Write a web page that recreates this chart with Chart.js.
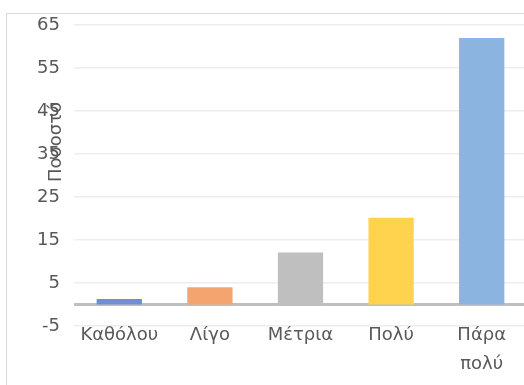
<!DOCTYPE html>
<html>
<head>
<meta charset="utf-8">
<script src="https://cdn.jsdelivr.net/npm/chart.js@4/dist/chart.umd.min.js"></script>
<style>
  html, body { margin: 0; padding: 0; background: #fff; overflow: hidden; }
  #wrap { position: relative; width: 527px; height: 385px; }
</style>
</head>
<body>
<div id="wrap"><canvas id="chart"></canvas></div>
<script>
const categories = ["Καθόλου", "Λίγο", "Μέτρια", "Πολύ", ["Πάρα", "πολύ"]];
const values = [1.3, 4.0, 12.1, 20.2, 62.0];
const barColors = ["#6E8FD2", "#F4A46E", "#BFBFBF", "#FFD34E", "#8BB5E0"];
const yTicks = [-5, 5, 15, 25, 35, 45, 55, 65];
const yTitle = "Ποσοστό";

const fontFamily = "'DejaVu Sans', sans-serif";
const textColor = "#595959";

// frame, zero baseline and the rotated axis title
const extras = {
    id: "extras",
    beforeDraw(chart) {
        const ctx = chart.ctx;
        ctx.save();
        ctx.strokeStyle = "#D9D9D9";
        ctx.lineWidth = 1;
        ctx.strokeRect(6.5, 13.5, 700, 700);
        ctx.restore();
    },
    beforeDatasetsDraw(chart) {
        const ctx = chart.ctx;
        const area = chart.chartArea;
        const y0 = chart.scales.y.getPixelForValue(0);
        ctx.save();
        ctx.strokeStyle = "#BFBFBF";
        ctx.lineWidth = 3;
        ctx.beginPath();
        ctx.moveTo(area.left, y0);
        ctx.lineTo(area.right, y0);
        ctx.stroke();
        ctx.restore();
    },
    afterDraw(chart) {
        const ctx = chart.ctx;
        ctx.save();
        ctx.translate(56, 142);
        ctx.rotate(-Math.PI / 2);
        ctx.fillStyle = textColor;
        ctx.font = "18px " + fontFamily;
        ctx.textAlign = "center";
        ctx.textBaseline = "middle";
        ctx.fillText(yTitle, 0, 0);
        ctx.restore();
    }
};

new Chart(document.getElementById("chart"), {
    type: "bar",
    data: {
        labels: categories,
        datasets: [{
            data: values,
            backgroundColor: barColors,
            categoryPercentage: 1,
            barPercentage: 0.5
        }]
    },
    options: {
        responsive: true,
        maintainAspectRatio: false,
        animation: false,
        layout: { padding: { top: 25, left: 0, right: 0, bottom: 0 } },
        plugins: {
            legend: { display: false },
            tooltip: { enabled: false }
        },
        scales: {
            x: {
                grid: { display: false, drawTicks: false },
                border: { display: false },
                ticks: {
                    color: textColor,
                    font: { family: fontFamily, size: 18, lineHeight: 1.6 },
                    padding: -5,
                    maxRotation: 0,
                    autoSkip: false
                },
                afterFit(scale) { scale.height = 59; }
            },
            y: {
                min: -5,
                max: 65,
                afterBuildTicks(scale) {
                    scale.ticks = yTicks.map(v => ({ value: v }));
                },
                grid: { color: "#EDEDED", lineWidth: 1.5, drawTicks: false },
                border: { display: false },
                ticks: {
                    color: textColor,
                    font: { family: fontFamily, size: 18 },
                    padding: 14
                },
                afterFit(scale) { scale.width = 74; }
            }
        }
    },
    plugins: [extras]
});
</script>
</body>
</html>
